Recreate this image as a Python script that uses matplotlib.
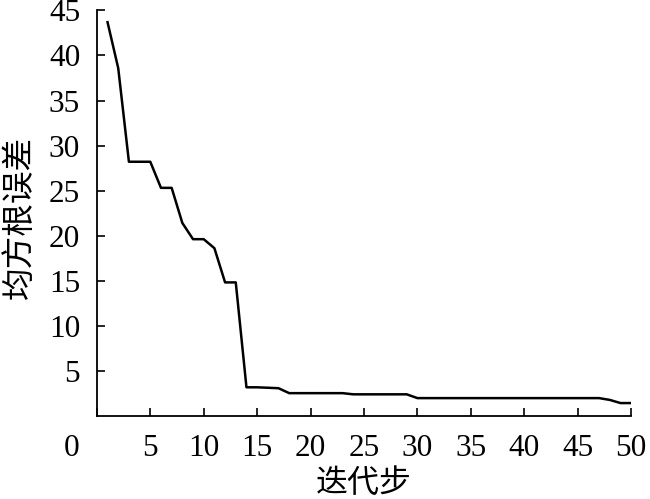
import numpy as np
import matplotlib
matplotlib.use('Agg')
import matplotlib.pyplot as plt
from matplotlib.transforms import ScaledTranslation

steps = np.arange(1, 51)
rmse = [43.7, 38.6, 28.2, 28.2, 28.2, 25.3, 25.3, 21.4, 19.6, 19.6,
        18.6, 14.8, 14.8, 3.15, 3.15, 3.1, 3.05, 2.5, 2.5, 2.5,
        2.5, 2.5, 2.5, 2.37, 2.37, 2.37, 2.37, 2.37, 2.37, 1.95,
        1.95, 1.95, 1.95, 1.95, 1.95, 1.95, 1.95, 1.95, 1.95, 1.95,
        1.95, 1.95, 1.95, 1.95, 1.95, 1.95, 1.95, 1.75, 1.4, 1.4]
xticks = [0, 5, 10, 15, 20, 25, 30, 35, 40, 45, 50]
yticks = [5, 10, 15, 20, 25, 30, 35, 40, 45]

plt.rcParams['font.family'] = ['Liberation Serif', 'Noto Sans CJK SC']

fig = plt.figure(figsize=(6.5, 4.99), dpi=100)
ax = fig.add_axes([0.149, 0.167, 0.822, 0.812])
ax.plot(steps, rmse, color='black', lw=1.8)

ax.set_xlim(0, 50)
ax.set_ylim(0, 45)
ax.set_xticks(xticks)
ax.set_yticks(yticks)
ax.tick_params(direction='in', length=6, width=1.2, labelsize=22.5, colors='black')
ax.tick_params(axis='x', pad=13)
ax.tick_params(axis='y', pad=12)
for s in ['top', 'right']:
    ax.spines[s].set_visible(False)
for s in ['left', 'bottom']:
    ax.spines[s].set_linewidth(1.3)

# the "0" sits left of the origin in the original
lab0 = ax.get_xticklabels()[0]
lab0.set_transform(lab0.get_transform() + ScaledTranslation(-0.25, 0, fig.dpi_scale_trans))

ax.set_xlabel('迭代步', fontsize=23, family=['Noto Sans CJK SC'], labelpad=3)
ax.set_ylabel('均方根误差', fontsize=23.5, family=['Noto Sans CJK SC'], labelpad=6)
ax.yaxis.set_label_coords(-0.115, 0.49)

fig.savefig('out.png', dpi=100)
